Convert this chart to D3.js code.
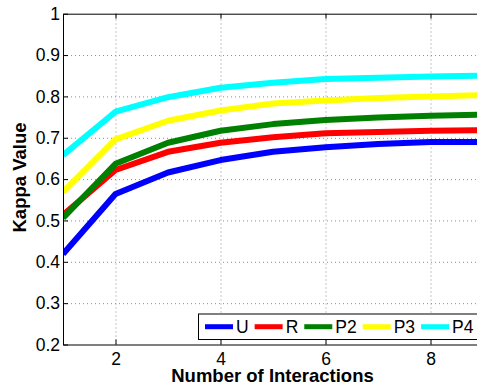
<!DOCTYPE html>
<html>
<head>
<meta charset="utf-8">
<script src="https://cdn.jsdelivr.net/npm/d3@7"></script>
<style>
  body { margin: 0; background: #fff; }
  svg { display: block; font-family: "Liberation Sans", Arial, Helvetica, sans-serif; }
</style>
</head>
<body>
<div class="svg-container"></div>
<script>
// number of interactions
const interactions = [1, 2, 3, 4, 5, 6, 7, 8, 9];

// kappa values per strategy
const seriesU  = [0.419, 0.564, 0.616, 0.646, 0.666, 0.677, 0.685, 0.690, 0.690];
const seriesR  = [0.513, 0.622, 0.666, 0.688, 0.701, 0.711, 0.714, 0.717, 0.718];
const seriesP2 = [0.506, 0.637, 0.688, 0.717, 0.733, 0.743, 0.749, 0.753, 0.756];
const seriesP3 = [0.569, 0.696, 0.741, 0.766, 0.783, 0.790, 0.796, 0.800, 0.803];
const seriesP4 = [0.658, 0.763, 0.798, 0.821, 0.833, 0.842, 0.845, 0.848, 0.850];

const seriesNames = ["U", "R", "P2", "P3", "P4"];
const seriesColors = ["#0000ff", "#ff0000", "#008000", "#ffff00", "#00ffff"];

const xTicks = [2, 4, 6, 8];
const yTicks = [0.2, 0.3, 0.4, 0.5, 0.6, 0.7, 0.8, 0.9, 1];

const width = 477, height = 387;
const margin = {top: 13.7, left: 63, bottom: 344.5, right: 483};

const svg = d3.select(".svg-container").append("svg")
  .attr("width", width)
  .attr("height", height);

const x = d3.scaleLinear().domain([1, 9]).range([margin.left, margin.right]);
const y = d3.scaleLinear().domain([0.2, 1]).range([margin.bottom, margin.top]);

const plotH = margin.bottom - margin.top;
const plotW = margin.right - margin.left;

// dotted grid
svg.append("g")
  .attr("transform", `translate(0,${margin.bottom})`)
  .call(d3.axisBottom(x).tickValues(xTicks).tickSize(-plotH).tickFormat(""))
  .call(g => g.select(".domain").remove())
  .call(g => g.selectAll("line").attr("stroke", "#8c8c8c").attr("stroke-dasharray", "1,3"));

svg.append("g")
  .attr("transform", `translate(${margin.left},0)`)
  .call(d3.axisLeft(y).tickValues(yTicks.slice(1, -1)).tickSize(-plotW).tickFormat(""))
  .call(g => g.select(".domain").remove())
  .call(g => g.selectAll("line").attr("stroke", "#8c8c8c").attr("stroke-dasharray", "1,3"));

// data lines
svg.append("clipPath").attr("id", "plot-clip")
  .append("rect")
  .attr("x", margin.left).attr("y", margin.top)
  .attr("width", plotW).attr("height", plotH);

const allSeries = [seriesU, seriesR, seriesP2, seriesP3, seriesP4];
const line = d3.line().x((d, i) => x(interactions[i])).y(d => y(d));

allSeries.forEach((s, i) => {
  svg.append("path")
    .datum(s)
    .attr("clip-path", "url(#plot-clip)")
    .attr("fill", "none")
    .attr("stroke", seriesColors[i])
    .attr("stroke-width", 6)
    .attr("stroke-linejoin", "round")
    .attr("d", line);
});

// axes, ticks pointing inward
const fontSize = "17.5px";

svg.append("g")
  .attr("transform", `translate(0,${margin.bottom})`)
  .call(d3.axisBottom(x).tickValues(xTicks).tickSize(-5).tickPadding(8).tickSizeOuter(0))
  .call(g => g.select(".domain").attr("stroke", "#000"))
  .call(g => g.selectAll("text").attr("font-size", fontSize).attr("font-family", null).attr("fill", "#000"));

svg.append("g")
  .attr("transform", `translate(0,${margin.top})`)
  .call(d3.axisTop(x).tickValues(xTicks).tickSize(-5).tickFormat("").tickSizeOuter(0));

svg.append("g")
  .attr("transform", `translate(${margin.left},0)`)
  .call(d3.axisLeft(y).tickValues(yTicks).tickSize(-5).tickPadding(3).tickSizeOuter(0).tickFormat(d => d === 1 ? "1" : d3.format(".1f")(d)))
  .call(g => g.selectAll("text").attr("font-size", fontSize).attr("font-family", null).attr("fill", "#000"));

// legend
const legend = svg.append("g");
legend.append("rect")
  .attr("x", 198.5).attr("y", 314)
  .attr("width", 290).attr("height", 25.5)
  .attr("fill", "#fff").attr("stroke", "#000").attr("stroke-width", 1);

let lx = 205;
seriesNames.forEach((name, i) => {
  legend.append("line")
    .attr("x1", lx).attr("x2", lx + 28)
    .attr("y1", 326.7).attr("y2", 326.7)
    .attr("stroke", seriesColors[i]).attr("stroke-width", 5);
  const t = legend.append("text")
    .attr("x", lx + 31).attr("y", 333)
    .attr("font-size", fontSize)
    .text(name);
  lx += 31 + t.node().getComputedTextLength() + 6;
});

// axis titles
svg.append("text")
  .attr("x", 272.5).attr("y", 381.5)
  .attr("text-anchor", "middle")
  .attr("font-size", "18.5px").attr("font-weight", "bold")
  .text("Number of Interactions");

svg.append("text")
  .attr("transform", "translate(25.5,177.5) rotate(-90)")
  .attr("text-anchor", "middle")
  .attr("font-size", "18.5px").attr("font-weight", "bold")
  .text("Kappa Value");
</script>
</body>
</html>
